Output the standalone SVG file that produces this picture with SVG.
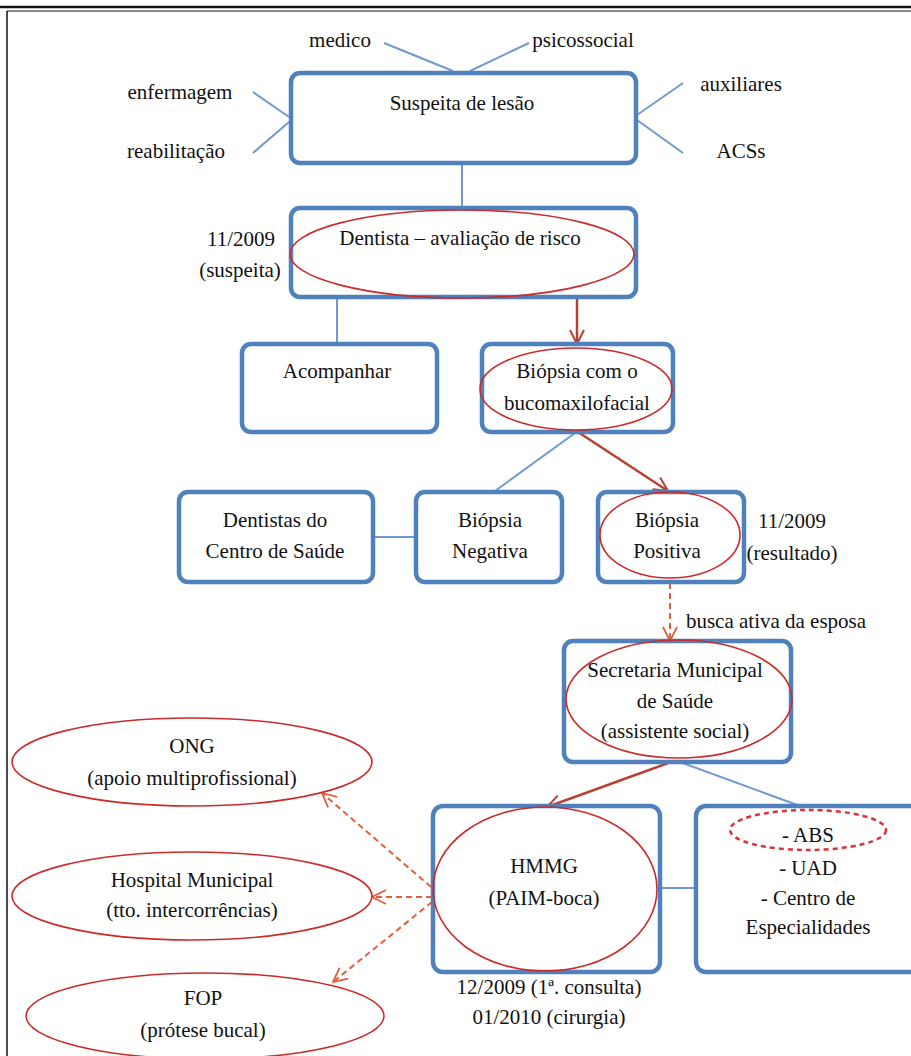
<svg xmlns="http://www.w3.org/2000/svg" width="911" height="1056" viewBox="0 0 911 1056">
<style>
.t{font-family:"Liberation Serif","Times New Roman",serif;font-size:21px;fill:#111;text-anchor:middle}
.box{fill:#fff;stroke:#4F81BD;stroke-width:4.5}
.ell{fill:none;stroke:#CC2B2B;stroke-width:1.6}
.bl{stroke:#7099D0;stroke-width:2;fill:none}
.rs{stroke:#B84130;stroke-width:2.5;fill:none}
.rd{stroke:#E0603C;stroke-width:2;fill:none;stroke-dasharray:6 4}
</style>
<defs>
<marker id="ars" viewBox="0 0 16 16" refX="15" refY="8" markerWidth="16" markerHeight="16" orient="auto" markerUnits="userSpaceOnUse"><path d="M1,1 L15,8 L1,15" fill="none" stroke="#B84130" stroke-width="2"/></marker>
<marker id="ard" viewBox="0 0 16 16" refX="15" refY="8" markerWidth="16" markerHeight="16" orient="auto" markerUnits="userSpaceOnUse"><path d="M1,1 L15,8 L1,15" fill="none" stroke="#E0603C" stroke-width="1.8"/></marker>
</defs>
<rect width="911" height="1056" fill="#fff"/>
<g id="frame">
<line x1="0" y1="7" x2="911" y2="7" stroke="#111" stroke-width="2.5"/>
<line x1="7" y1="11" x2="911" y2="11" stroke="#111" stroke-width="1"/>
<line x1="7" y1="11" x2="7" y2="1056" stroke="#111" stroke-width="1.5"/>
</g>
<g id="connectors">
<line class="bl" x1="384" y1="43" x2="453" y2="71"/>
<line class="bl" x1="529" y1="43" x2="470" y2="71"/>
<line class="bl" x1="253" y1="92" x2="289" y2="117"/>
<line class="bl" x1="289" y1="122" x2="253" y2="153"/>
<line class="bl" x1="683" y1="83" x2="637" y2="115"/>
<line class="bl" x1="637" y1="120" x2="683" y2="153"/>
<line class="bl" x1="462" y1="163" x2="462" y2="208"/>
<line class="bl" x1="337" y1="298" x2="337" y2="343"/>
<line class="bl" x1="575" y1="433" x2="495" y2="491"/>
<line class="bl" x1="373" y1="537" x2="416" y2="537"/>
<line class="bl" x1="680" y1="762" x2="800" y2="806"/>
<line class="bl" x1="660" y1="888" x2="696" y2="888"/>
<line class="rs" x1="577" y1="298" x2="577" y2="344" marker-end="url(#ars)"/>
<line class="rs" x1="578" y1="432" x2="668" y2="491" marker-end="url(#ars)"/>
<line class="rs" x1="671" y1="762" x2="547" y2="807" marker-end="url(#ars)"/>
<line class="rd" x1="670" y1="583" x2="670" y2="641" marker-end="url(#ard)"/>
<line class="rd" x1="431" y1="887" x2="322" y2="793" marker-end="url(#ard)"/>
<line class="rd" x1="432" y1="897" x2="372" y2="897" marker-end="url(#ard)"/>
<line class="rd" x1="432" y1="902" x2="333" y2="982" marker-end="url(#ard)"/>
</g>
<g id="labels">
<text class="t" x="340" y="47">medico</text>
<text class="t" x="583" y="47">psicossocial</text>
<text class="t" x="180" y="99">enfermagem</text>
<text class="t" x="176" y="158">reabilitação</text>
<text class="t" x="741" y="91">auxiliares</text>
<text class="t" x="741" y="158">ACSs</text>
<text class="t" x="241" y="246">11/2009</text>
<text class="t" x="240" y="277">(suspeita)</text>
<text class="t" x="792" y="528">11/2009</text>
<text class="t" x="792" y="560">(resultado)</text>
<text class="t" x="776" y="628">busca ativa da esposa</text>
<text class="t" x="549" y="994">12/2009 (1ª. consulta)</text>
<text class="t" x="549" y="1024">01/2010 (cirurgia)</text>
</g>
<g id="suspeita">
<rect class="box" x="291" y="73" width="345" height="90" rx="9"/>
<text class="t" x="462" y="110">Suspeita de lesão</text>
</g>
<g id="dentista">
<rect class="box" x="291" y="208" width="345" height="89" rx="9"/>
<ellipse class="ell" cx="462" cy="254" rx="172" ry="44"/>
<text class="t" x="460" y="245">Dentista – avaliação de risco</text>
</g>
<g id="acompanhar">
<rect class="box" x="242" y="344" width="195" height="88" rx="9"/>
<text class="t" x="337" y="378">Acompanhar</text>
</g>
<g id="biopsia-bmf">
<rect class="box" x="482" y="344" width="191" height="88" rx="9"/>
<ellipse class="ell" cx="576" cy="389" rx="96" ry="41"/>
<text class="t" x="577" y="378">Biópsia com o</text>
<text class="t" x="577" y="410">bucomaxilofacial</text>
</g>
<g id="dentistas-cs">
<rect class="box" x="179" y="492" width="194" height="90" rx="9"/>
<text class="t" x="275" y="527">Dentistas do</text>
<text class="t" x="275" y="558">Centro de Saúde</text>
</g>
<g id="biopsia-neg">
<rect class="box" x="416" y="492" width="146" height="90" rx="9"/>
<text class="t" x="490" y="527">Biópsia</text>
<text class="t" x="490" y="558">Negativa</text>
</g>
<g id="biopsia-pos">
<rect class="box" x="598" y="492" width="146" height="90" rx="9"/>
<ellipse class="ell" cx="670" cy="535" rx="70" ry="43"/>
<text class="t" x="667" y="527">Biópsia</text>
<text class="t" x="667" y="558">Positiva</text>
</g>
<g id="secretaria">
<rect class="box" x="564" y="641" width="227" height="121" rx="9"/>
<ellipse class="ell" cx="679" cy="699" rx="113" ry="59"/>
<text class="t" x="675" y="677">Secretaria Municipal</text>
<text class="t" x="675" y="708">de Saúde</text>
<text class="t" x="675" y="738">(assistente social)</text>
</g>
<g id="hmmg">
<rect class="box" x="433" y="806" width="227" height="166" rx="10"/>
<ellipse class="ell" cx="545" cy="889" rx="112" ry="82"/>
<text class="t" x="544" y="873">HMMG</text>
<text class="t" x="544" y="905">(PAIM-boca)</text>
</g>
<g id="abs-uad">
<rect class="box" x="696" y="806" width="235" height="166" rx="10"/>
<ellipse cx="808" cy="830" rx="78" ry="20" fill="none" stroke="#D9333A" stroke-width="2.5" stroke-dasharray="5 4"/>
<text class="t" x="808" y="842">- ABS</text>
<text class="t" x="808" y="875">- UAD</text>
<text class="t" x="808" y="905">- Centro de</text>
<text class="t" x="808" y="934">Especialidades</text>
</g>
<g id="ong">
<ellipse class="ell" cx="192" cy="762" rx="180" ry="44"/>
<text class="t" x="192" y="753">ONG</text>
<text class="t" x="192" y="785">(apoio multiprofissional)</text>
</g>
<g id="hospital">
<ellipse class="ell" cx="192" cy="896" rx="180" ry="44"/>
<text class="t" x="192" y="887">Hospital Municipal</text>
<text class="t" x="192" y="917">(tto. intercorrências)</text>
</g>
<g id="fop">
<ellipse class="ell" cx="205" cy="1016" rx="179" ry="43"/>
<text class="t" x="203" y="1005">FOP</text>
<text class="t" x="203" y="1037">(prótese bucal)</text>
</g>
</svg>
